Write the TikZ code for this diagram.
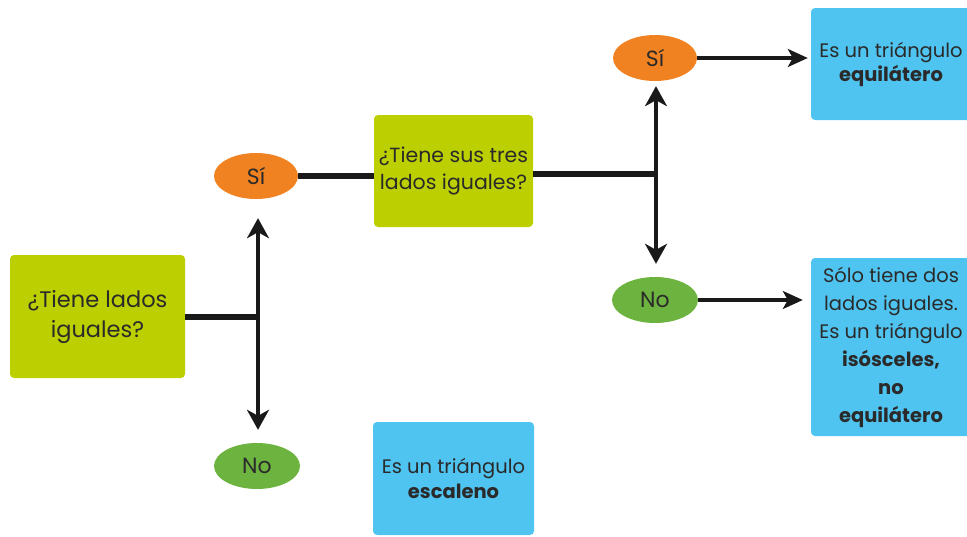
\documentclass[tikz,border=0pt]{standalone}
\usepackage{fontspec}
\setmainfont{Poppins}
\usetikzlibrary{arrows.meta,shapes.geometric}
\definecolor{lime}{HTML}{BCCF00}
\definecolor{orng}{HTML}{F08222}
\definecolor{grn}{HTML}{6DB33F}
\definecolor{sky}{HTML}{50C4F0}
\definecolor{txt}{HTML}{2A2A2A}
\tikzset{
  qbox/.style={fill=lime, rounded corners=4pt, align=center, text=txt, inner sep=0pt},
  abox/.style={fill=sky, rounded corners=4pt, align=center, text=txt, font=\fontsize{19.5}{28}\selectfont, inner sep=0pt},
  yes/.style={ellipse, fill=orng, minimum width=84pt, minimum height=46pt, text=txt, font=\fontsize{22}{26}\selectfont, inner sep=0pt},
  no/.style={ellipse, fill=grn, minimum width=86pt, minimum height=46pt, text=txt, font=\fontsize{22}{26}\selectfont, inner sep=0pt},
  thickline/.style={line width=5.5pt, black!90},
  vline/.style={line width=4.5pt, black!90, -{Stealth[length=20pt,width=22pt,inset=6pt]}},
  harrow/.style={line width=3.2pt, black!90, -{Stealth[length=20pt,width=18pt,inset=5pt]}}
}
\begin{document}
\begin{tikzpicture}[x=1pt,y=-1pt]
\useasboundingbox (0,0) rectangle (967,536);
\clip (0,0) rectangle (967,536);
% nodes
\node[qbox, minimum width=175pt, minimum height=123pt, font=\fontsize{22.5}{30}\selectfont] (q1) at (97.5,316.5) {¿Tiene lados\\iguales?};
\node[yes] (si1) at (256,176) {Sí};
\node[no] (no1) at (257,466) {No};
\node[qbox, minimum width=159pt, minimum height=112pt, font=\fontsize{20.5}{27}\selectfont] (q2) at (453.5,171) {¿Tiene sus tres\\lados iguales?};
\node[yes] (si2) at (655,58) {Sí};
\node[no] (no2) at (655,300) {No};
\node[abox, minimum width=160pt, minimum height=112pt, font=\fontsize{19.5}{24}\selectfont] (a1) at (891,64) {Es un triángulo\\\bfseries equilátero};
\node[abox, minimum width=160pt, minimum height=178pt] (a2) at (891,347) {Sólo tiene dos\\lados iguales.\\Es un triángulo\\\bfseries isósceles,\\\bfseries no\\\bfseries equilátero};
\node[abox, minimum width=161pt, minimum height=113pt, font=\fontsize{19.5}{25}\selectfont] (a3) at (453.5,478.5) {Es un triángulo\\\bfseries escaleno};
% junctions
\coordinate (j1) at (258,317);
\coordinate (j2) at (656,174);
% connectors
\draw[thickline] (q1.east |- j1) -- (j1);
\draw[thickline] (si1.east) -- (q2.west |- si1.east);
\draw[thickline] (q2.east |- j2) -- (j2);
\draw[vline, shorten >=19pt] (j1) -- (j1 |- si1.south);
\draw[vline, shorten >=13pt] (j1) -- (j1 |- no1.north);
\draw[vline, shorten >=5pt] (j2) -- (j2 |- si2.south);
\draw[vline, shorten >=13pt] (j2) -- (j2 |- no2.north);
\draw[harrow, shorten >=3pt] (si2.east) -- (a1.west |- si2.east);
\draw[harrow, shorten >=8pt] (no2.east) -- (a2.west |- no2.east);
\end{tikzpicture}
\end{document}
